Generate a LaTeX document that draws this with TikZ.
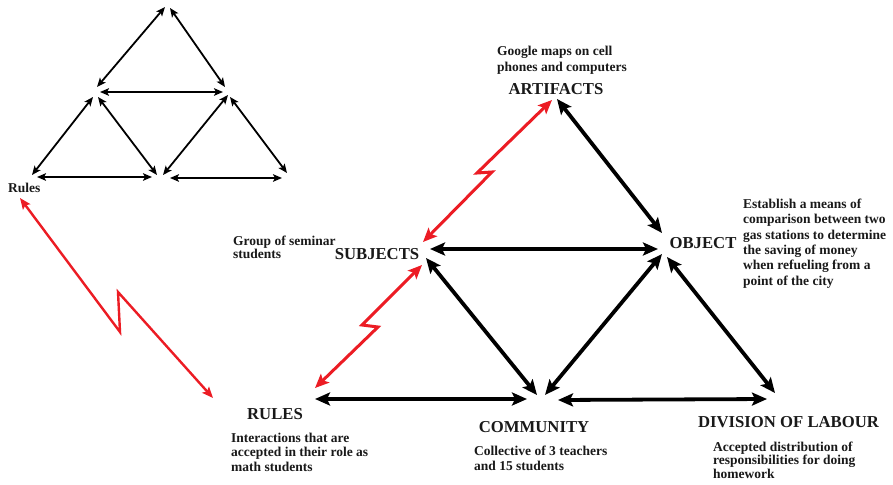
\documentclass[tikz,border=0pt]{standalone}
\usepackage{fontspec}
\setmainfont{Liberation Serif}
\usetikzlibrary{arrows.meta}
\definecolor{lred}{RGB}{236,28,36}
\definecolor{ink}{RGB}{25,25,25}
\begin{document}
\begin{tikzpicture}[x=1pt,y=-1pt,
  big/.style={font=\fontsize{16.7}{18}\selectfont\bfseries, text=ink, inner sep=0pt, anchor=base},
  desc/.style={font=\fontsize{13.5}{#1}\selectfont\bfseries, text=ink, align=left, inner sep=0pt, anchor=north west},
  blk/.style={draw=black, line width=3.8pt, {Stealth[length=15pt,width=13pt,inset=3pt]}-{Stealth[length=15pt,width=13pt,inset=3pt]}},
  redarr/.style={draw=lred, line width=3pt, line join=miter, {Stealth[length=14pt,width=12pt,inset=3pt]}-{Stealth[length=14pt,width=12pt,inset=3pt]}},
  redbig/.style={draw=lred, line width=2.4pt, line join=miter, {Stealth[length=11pt,width=9pt,inset=2pt]}-{Stealth[length=11pt,width=9pt,inset=2pt]}},
  thin/.style={draw=black, line width=1.8pt, {Stealth[length=9pt,width=7.5pt,inset=2pt]}-{Stealth[length=9pt,width=7.5pt,inset=2pt]}}
]
\useasboundingbox[fill=white] (0,0) rectangle (893,484);

% ---------- small triangle (top left) ----------
\coordinate (t-l) at (165,7);   \coordinate (t-r) at (170,8);
\coordinate (ml-t) at (97,87);  \coordinate (ml-r) at (100,92);
\coordinate (ml-bl) at (93,97); \coordinate (ml-bm) at (98,97);
\coordinate (mr-t) at (225,87); \coordinate (mr-l) at (223,92);
\coordinate (mr-bm) at (228,95); \coordinate (mr-br) at (230,97);
\coordinate (bl-t) at (32,175); \coordinate (bl-r) at (37,177);
\coordinate (bm-l) at (152,177); \coordinate (bm-tl) at (157,175);
\coordinate (bm-tr) at (163,175); \coordinate (bm-r) at (170,178);
\coordinate (br-t) at (287,173); \coordinate (br-l) at (282,178);

\draw[thin] (t-l) -- (ml-t);
\draw[thin] (t-r) -- (mr-t);
\draw[thin] (ml-r) -- (mr-l);
\draw[thin] (ml-bl) -- (bl-t);
\draw[thin] (ml-bm) -- (bm-tl);
\draw[thin] (mr-bm) -- (bm-tr);
\draw[thin] (mr-br) -- (br-t);
\draw[thin] (bl-r) -- (bm-l);
\draw[thin] (bm-r) -- (br-l);

\node[font=\fontsize{13.5}{15}\selectfont\bfseries, text=ink, inner sep=0pt, anchor=base west] (rulessmall) at (8,192) {Rules};

% ---------- big red lightning from small Rules to RULES ----------
\coordinate (rs-end) at (20,198);
\coordinate (RR-end) at (213,398);
\draw[redbig] (rs-end) -- (120,332) -- (118,292) -- (RR-end);

% ---------- main labels ----------
\node[big] (artifacts) at (556,95) {ARTIFACTS};
\node[big] (subjects) at (377,259) {SUBJECTS};
\node[big] (object) at (703,248) {OBJECT};
\node[big] (rules) at (275,419) {RULES};
\node[big] (community) at (534,432) {COMMUNITY};
\node[big] (division) at (788.5,427) {DIVISION OF LABOUR};

% ---------- descriptions ----------
\node[desc=16] (d-art) at (497,46) {Google maps on cell\\phones and computers};
\node[desc=13.3] (d-sub) at (233,235.5) {Group of seminar\\students};
\node[desc=15.4] (d-obj) at (743,198.5) {Establish a means of\\comparison between two\\gas stations to determine\\the saving of money\\when refueling from a\\point of the city};
\node[desc=14.5] (d-rul) at (231,432.5) {Interactions that are\\accepted in their role as\\math students};
\node[desc=15] (d-com) at (474,445.5) {Collective of 3 teachers\\and 15 students};
\node[desc=13.5] (d-div) at (713,441.5) {Accepted distribution of\\responsibilities for doing\\homework};

% ---------- main triangle arrow ends ----------
\coordinate (A-s) at (552,100);  \coordinate (A-o) at (557,99);
\coordinate (S-a) at (423,242);  \coordinate (S-o) at (430,249);
\coordinate (S-c) at (426,258);  \coordinate (S-r) at (422,265);
\coordinate (O-a) at (662,233);  \coordinate (O-s) at (658,249);
\coordinate (O-c) at (662,254);  \coordinate (O-d) at (667,257);
\coordinate (R-s) at (315,388);  \coordinate (R-c) at (315,399);
\coordinate (C-r) at (527,399);  \coordinate (C-s) at (537,395);
\coordinate (C-o) at (545,395);  \coordinate (C-d) at (558,400);
\coordinate (D-c) at (767,399);  \coordinate (D-o) at (775,393);

\draw[blk] (A-o) -- (O-a);
\draw[blk] (S-o) -- (O-s);
\draw[blk] (S-c) -- (C-s);
\draw[blk] (O-c) -- (C-o);
\draw[blk] (O-d) -- (D-o);
\draw[blk] (R-c) -- (C-r);
\draw[blk] (C-d) -- (D-c);

\draw[redarr] (S-a) -- (492,172) -- (477,173) -- (A-s);
\draw[redarr] (R-s) -- (378,327) -- (362,325) -- (S-r);
\end{tikzpicture}
\end{document}
